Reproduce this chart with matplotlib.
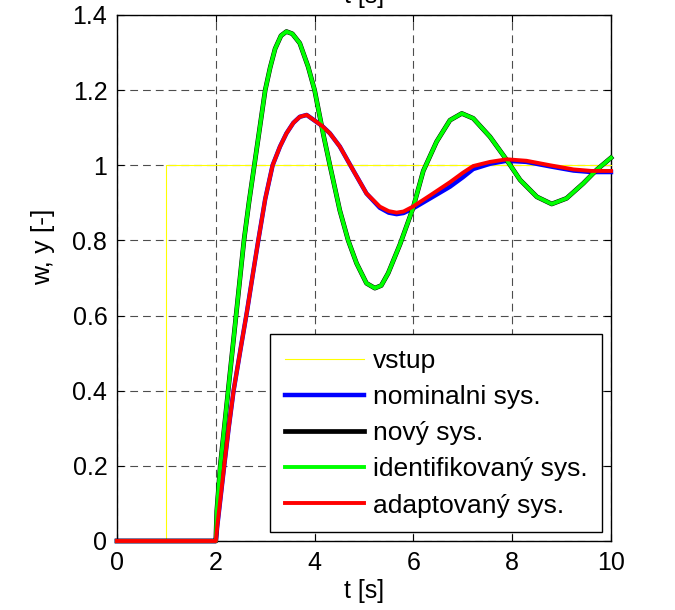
import matplotlib
matplotlib.use("Agg")
import matplotlib.pyplot as plt

plt.rcParams['font.family'] = ['Liberation Sans', 'DejaVu Sans']

# vstup (skok v t=1)
t_w = [0, 1, 1, 10]
w = [0, 0, 1, 1]

# identifikovany / novy system
t_ident = [0, 2.0, 2.02, 2.09, 2.17, 2.25, 2.33, 2.41, 2.49, 2.57, 2.67, 2.78, 2.89, 3.0,
           3.1, 3.2, 3.32, 3.43, 3.55, 3.7, 3.87, 4.0, 4.18, 4.31, 4.51, 4.68, 4.85, 5.05,
           5.22, 5.35, 5.49, 5.73, 5.99, 6.2, 6.47, 6.74, 6.98, 7.21, 7.55, 7.89, 8.16,
           8.5, 8.8, 9.1, 9.44, 9.71, 10.0]
y_ident = [0, 0, 0.08, 0.2, 0.3, 0.4, 0.5, 0.6, 0.7, 0.8, 0.9, 1.0, 1.1, 1.2,
           1.26, 1.31, 1.345, 1.356, 1.35, 1.325, 1.262, 1.2, 1.08, 1.0, 0.88, 0.80, 0.739, 0.686,
           0.673, 0.68, 0.713, 0.79, 0.885, 0.985, 1.063, 1.12, 1.138, 1.125, 1.076, 1.014, 0.961,
           0.916, 0.897, 0.912, 0.952, 0.988, 1.02]
y_novy = list(y_ident)

# adaptovany / nominalni system
t_adapt = [0, 2.0, 2.03, 2.1, 2.17, 2.26, 2.36, 2.5, 2.63, 2.75, 2.86, 3.0, 3.15, 3.3,
           3.43, 3.57, 3.7, 3.84, 3.99, 4.15, 4.31, 4.51, 4.78, 5.05, 5.32, 5.5, 5.66, 5.8,
           5.99, 6.34, 6.74, 7.0, 7.21, 7.55, 7.89, 8.29, 8.77, 9.24, 9.6, 10.0]
y_adapt = [0, 0, 0.04, 0.12, 0.2, 0.3, 0.4, 0.51, 0.61, 0.71, 0.8, 0.91, 1.0, 1.05,
           1.085, 1.113, 1.129, 1.134, 1.12, 1.105, 1.085, 1.05, 0.987, 0.925, 0.89, 0.878, 0.874, 0.877,
           0.89, 0.92, 0.955, 0.98, 0.998, 1.009, 1.016, 1.012, 1.0, 0.989, 0.985, 0.985]
y_nom = [0, 0, 0.04, 0.12, 0.2, 0.3, 0.4, 0.51, 0.61, 0.71, 0.8, 0.91, 1.0, 1.05,
         1.085, 1.113, 1.129, 1.134, 1.12, 1.105, 1.085, 1.05, 0.987, 0.925, 0.887, 0.874, 0.870, 0.873,
         0.885, 0.912, 0.943, 0.968, 0.99, 1.004, 1.012, 1.009, 0.997, 0.986, 0.982, 0.982]

x_ticks = [0, 2, 4, 6, 8, 10]
x_tick_labels = ['0', '2', '4', '6', '8', '10']
y_ticks = [0, 0.2, 0.4, 0.6, 0.8, 1.0, 1.2, 1.4]
y_tick_labels = ['0', '0.2', '0.4', '0.6', '0.8', '1', '1.2', '1.4']

fs = 18
fs_leg = 19
fig = plt.figure(figsize=(6.75, 6.1), dpi=100)
ax = fig.add_axes([117 / 675, 1 - 541 / 610, 494 / 675, 526 / 610])

ax.plot(t_w, w, color='#ffff00', lw=0.8, label='vstup', clip_on=False, zorder=3)
ax.plot(t_adapt, y_nom, color='#0000ff', lw=3.2, label='nominalni sys.', clip_on=False, zorder=4)
ax.plot(t_ident, y_novy, color='black', lw=3.4, label='nový sys.', clip_on=False, zorder=5)
ax.plot(t_ident, y_ident, color='#00ff00', lw=2.8, label='identifikovaný sys.', clip_on=False, zorder=6)
ax.plot(t_adapt, y_adapt, color='#ff0000', lw=2.8, label='adaptovaný sys.', clip_on=False, zorder=7)

ax.set_xlim(0, 10)
ax.set_ylim(0, 1.4)
ax.set_xticks(x_ticks)
ax.set_xticklabels(x_tick_labels)
ax.set_yticks(y_ticks)
ax.set_yticklabels(y_tick_labels)
ax.tick_params(direction='in', top=True, right=True, length=5, width=0.8,
               labelsize=fs, pad=7)
ax.grid(True, color='0.3', lw=0.8, linestyle=(0, (7, 4.5)))
for s in ax.spines.values():
    s.set_linewidth(1.0)

ax.set_xlabel('t [s]', fontsize=fs, labelpad=3)
ax.set_ylabel('w, y [-]', fontsize=fs + 1)
ax.yaxis.set_label_coords(-0.125, 0.56)
fig.text(364 / 675, 1 - 3 / 610, 't [s]', ha='center', va='baseline', fontsize=fs)

leg = ax.legend(loc='lower right', bbox_to_anchor=(0.982, 0.017), fontsize=fs_leg,
                fancybox=False, edgecolor='black', framealpha=1, borderaxespad=0,
                handlelength=3.0, handletextpad=0.35, labelspacing=0.46, borderpad=0.55)
leg.get_frame().set_linewidth(1.0)

fig.savefig('out.png', dpi=100)
